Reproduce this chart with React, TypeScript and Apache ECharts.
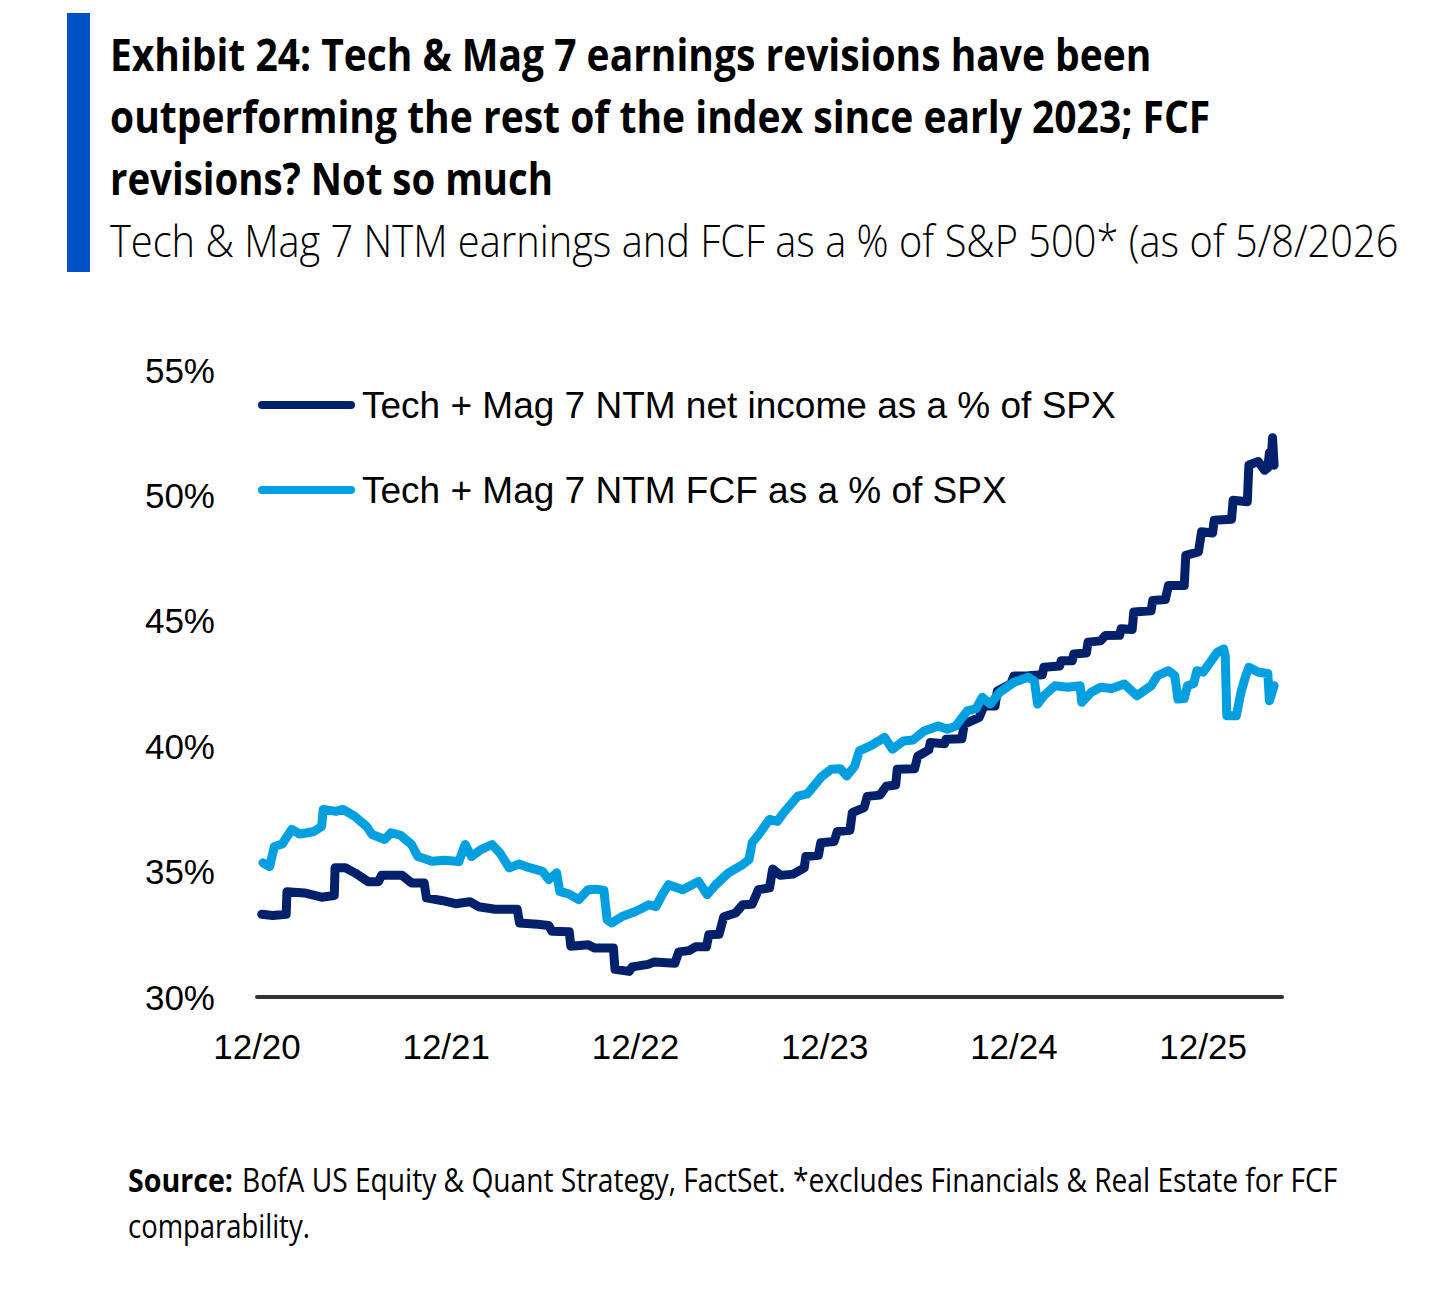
import React, { useEffect, useRef } from "react";
import * as echarts from "echarts";

// x values are months since Dec 2020 (0 = 12/20, 12 = 12/21, ...)
const xTickLabels = ["12/20", "12/21", "12/22", "12/23", "12/24", "12/25"];
const seriesNames = [
  "Tech + Mag 7 NTM net income as a % of SPX",
  "Tech + Mag 7 NTM FCF as a % of SPX",
];

const netIncomePoints: [number, number][] = [
  [0.3, 33.3], [1.0, 33.25], [1.85, 33.3], [1.9, 34.2], [3.0, 34.15], [4.1, 33.98], [4.9, 34.05],
  [4.95, 35.15], [5.6, 35.15], [6.2, 34.95], [7.05, 34.6], [7.7, 34.6], [7.9, 34.85], [9.2, 34.85],
  [9.8, 34.55], [10.6, 34.55], [10.75, 33.95], [11.7, 33.85], [12.6, 33.72], [13.5, 33.8], [14.05, 33.6],
  [15.1, 33.5], [16.5, 33.5], [16.65, 32.95], [17.8, 32.9], [18.5, 32.85], [18.7, 32.62], [19.8, 32.6],
  [19.9, 32.02], [21.0, 32.08], [21.4, 31.95], [22.6, 31.95], [22.7, 31.1], [23.6, 31.02], [23.8, 31.2],
  [24.8, 31.3], [25.2, 31.4], [26.5, 31.35], [26.75, 31.8], [27.4, 31.85], [27.8, 32.0], [28.5, 32.0],
  [28.65, 32.48], [29.3, 32.5], [29.6, 33.2], [30.35, 33.35], [30.8, 33.68], [31.4, 33.7], [31.8, 34.28],
  [32.5, 34.35], [32.7, 35.1], [33.2, 34.85], [34.0, 34.9], [34.7, 35.15], [34.8, 35.6], [35.6, 35.65],
  [35.75, 36.15], [36.6, 36.2], [36.8, 36.6], [37.6, 36.65], [37.75, 37.35], [38.5, 37.55], [38.7, 38.0],
  [39.5, 38.05], [39.9, 38.4], [40.5, 38.45], [40.6, 39.08], [41.7, 39.1], [41.9, 39.6], [42.6, 39.85],
  [42.7, 40.15], [43.6, 40.1], [43.7, 40.28], [44.7, 40.3], [44.85, 40.88], [45.8, 41.15], [46.1, 41.6],
  [46.8, 41.6], [46.95, 42.2], [47.8, 42.48], [48.0, 42.8], [48.9, 42.81], [49.8, 42.85], [49.9, 43.15],
  [50.9, 43.2], [51.0, 43.41], [51.7, 43.41], [51.8, 43.68], [52.6, 43.72], [52.7, 44.15], [53.5, 44.2],
  [53.8, 44.41], [54.7, 44.42], [54.8, 44.68], [55.5, 44.65], [55.6, 45.35], [56.7, 45.4], [56.8, 45.81],
  [57.6, 45.85], [57.8, 46.41], [58.8, 46.41], [58.9, 47.61], [59.7, 47.75], [59.9, 48.55], [60.6, 48.5],
  [60.7, 49.01], [61.8, 49.05], [61.9, 49.81], [62.8, 49.75], [62.9, 51.21], [63.5, 51.35], [63.9, 51.0],
  [64.1, 51.1], [64.2, 51.7], [64.3, 51.3], [64.4, 52.3], [64.5, 51.2],
];

const fcfPoints: [number, number][] = [
  [0.38, 35.35], [0.8, 35.2], [1.1, 36.0], [1.6, 36.1], [2.2, 36.68], [2.7, 36.5], [3.2, 36.55],
  [3.6, 36.6], [4.1, 36.8], [4.2, 37.48], [5.0, 37.4], [5.46, 37.48], [6.2, 37.2], [6.95, 36.8],
  [7.3, 36.48], [8.1, 36.28], [8.5, 36.55], [9.1, 36.45], [9.8, 36.08], [10.2, 35.6], [11.1, 35.41],
  [11.9, 35.45], [12.8, 35.4], [13.2, 36.08], [13.6, 35.6], [14.2, 35.88], [14.9, 36.08], [15.4, 35.75],
  [16.0, 35.15], [16.6, 35.3], [17.0, 35.21], [18.1, 35.01], [18.5, 34.68], [19.0, 34.95], [19.2, 34.21],
  [19.8, 34.1], [20.4, 33.88], [21.0, 34.28], [21.5, 34.3], [22.0, 34.25], [22.2, 33.08], [22.5, 32.95],
  [23.15, 33.21], [24.0, 33.41], [24.85, 33.68], [25.3, 33.6], [25.7, 34.08], [26.1, 34.48], [27.0, 34.28],
  [28.0, 34.61], [28.55, 34.08], [29.1, 34.48], [29.9, 34.95], [30.8, 35.28], [31.2, 35.48], [31.4, 36.15],
  [31.9, 36.55], [32.5, 37.08], [33.0, 37.0], [33.4, 37.35], [34.3, 38.01], [34.9, 38.1], [35.75, 38.75],
  [36.4, 39.08], [37.0, 39.1], [37.4, 38.81], [37.9, 39.2], [38.2, 39.81], [38.9, 40.01], [39.8, 40.35],
  [40.3, 39.88], [41.0, 40.21], [41.6, 40.25], [42.3, 40.61], [43.2, 40.81], [43.8, 40.68], [44.3, 40.8],
  [45.05, 41.41], [45.6, 41.5], [46.0, 41.95], [46.5, 41.68], [47.1, 42.15], [48.0, 42.55], [48.9, 42.75],
  [49.3, 42.6], [49.5, 41.68], [49.9, 42.01], [50.6, 42.41], [51.4, 42.35], [52.2, 42.41], [52.3, 41.75],
  [52.9, 42.15], [53.5, 42.35], [54.2, 42.3], [55.0, 42.48], [55.8, 42.01], [56.7, 42.41], [57.1, 42.81],
  [57.8, 43.01], [58.2, 42.81], [58.4, 41.88], [58.8, 41.9], [59.0, 42.41], [59.4, 42.5], [59.6, 43.01],
  [60.0, 42.95], [60.6, 43.48], [60.9, 43.75], [61.3, 43.88], [61.4, 43.6], [61.5, 41.21], [62.1, 41.21],
  [62.4, 42.15], [62.7, 42.81], [62.9, 43.15], [63.5, 42.95], [64.1, 42.9], [64.2, 41.81], [64.5, 42.41],
];

const titleLines = [
  "Exhibit 24: Tech & Mag 7 earnings revisions have been",
  "outperforming the rest of the index since early 2023; FCF",
  "revisions? Not so much",
];
const subtitleText = "Tech & Mag 7 NTM earnings and FCF as a % of S&P 500* (as of 5/8/2026";
const sourceLabel = "Source:";
const sourceText = "BofA US Equity & Quant Strategy, FactSet. *excludes Financials & Real Estate for FCF";
const sourceText2 = "comparability.";

const NAVY = "#03216B";
const CYAN = "#009FDF";
const HEAD_FONT = '"Open Sans", "Noto Sans", sans-serif';
const CHART_FONT = '"Liberation Sans Narrow", "Arial Narrow", "Liberation Sans", Arial, sans-serif';

export default function App() {
  const ref = useRef<HTMLDivElement>(null);

  useEffect(() => {
    document.body.style.margin = "0";
    const el = ref.current;
    if (!el) return;
    const chart = echarts.init(el, null, { renderer: "svg" });

    const ctx = document.createElement("canvas").getContext("2d")!;
    const fitText = (
      text: string,
      x: number,
      y: number,
      size: number,
      weight: number | string,
      family: string,
      width: number,
      fill = "#000"
    ) => {
      ctx.font = `${weight} ${size}px ${family}`;
      const w = ctx.measureText(text).width || width;
      return {
        type: "text",
        x,
        y,
        scaleX: width / w,
        style: {
          text,
          fontSize: size,
          fontWeight: weight,
          fontFamily: family,
          fill,
          textAlign: "left",
          textVerticalAlign: "middle",
        },
      };
    };

    const option: any = {
      animation: false,
      backgroundColor: "#ffffff",
      grid: {
        left: 257,
        top: 370,
        width: 1025,
        height: 627,
        containLabel: false,
        outerBoundsMode: "none",
      },
      legend: {
        left: 258,
        top: 380,
        padding: 0,
        orient: "vertical",
        itemWidth: 97,
        itemHeight: 8,
        itemGap: 35,
        icon: "path://M4,0 L93,0 A4,4 0 0 1 93,8 L4,8 A4,4 0 0 1 4,0 Z",
        textStyle: {
          fontFamily: CHART_FONT,
          fontSize: 37,
          lineHeight: 50,
          color: "#000",
          padding: [0, 0, 0, 2],
        },
        data: seriesNames,
      },
      xAxis: {
        type: "value",
        min: 0,
        max: 65,
        interval: 12,
        axisLine: { show: true, onZero: false, lineStyle: { color: "#333", width: 4 } },
        axisTick: { show: false },
        splitLine: { show: false },
        axisLabel: {
          margin: 32,
          fontFamily: CHART_FONT,
          fontSize: 35,
          color: "#000",
          formatter: (v: number) => (v % 12 === 0 ? xTickLabels[v / 12] ?? "" : ""),
        },
      },
      yAxis: {
        type: "value",
        min: 30,
        max: 55,
        interval: 5,
        axisLine: { show: false },
        axisTick: { show: false },
        splitLine: { show: false },
        axisLabel: {
          margin: 42,
          fontFamily: CHART_FONT,
          fontSize: 35,
          color: "#000",
          formatter: "{value}%",
        },
      },
      series: [
        {
          name: seriesNames[0],
          type: "line",
          data: netIncomePoints,
          showSymbol: false,
          symbol: "none",
          itemStyle: { color: NAVY },
          lineStyle: { color: NAVY, width: 9, cap: "round", join: "round" },
        },
        {
          name: seriesNames[1],
          type: "line",
          data: fcfPoints,
          showSymbol: false,
          symbol: "none",
          itemStyle: { color: CYAN },
          lineStyle: { color: CYAN, width: 9, cap: "round", join: "round" },
        },
      ],
      graphic: [
        { type: "rect", shape: { x: 67, y: 13, width: 23, height: 259 }, style: { fill: "#0050C8" } },
        fitText(titleLines[0], 110, 53, 45, 700, HEAD_FONT, 1042),
        fitText(titleLines[1], 110, 115, 45, 700, HEAD_FONT, 1100),
        fitText(titleLines[2], 110, 177, 45, 700, HEAD_FONT, 443),
        fitText(subtitleText, 110, 240, 45, 300, HEAD_FONT, 1288),
        fitText(sourceLabel, 128, 1180, 32, 700, HEAD_FONT, 105),
        fitText(sourceText, 242, 1180, 32, 400, HEAD_FONT, 1096),
        fitText(sourceText2, 128, 1226, 32, 400, HEAD_FONT, 182),
      ],
    };

    chart.setOption(option);
    return () => chart.dispose();
  }, []);

  return <div ref={ref} style={{ width: 1439, height: 1291 }} />;
}
